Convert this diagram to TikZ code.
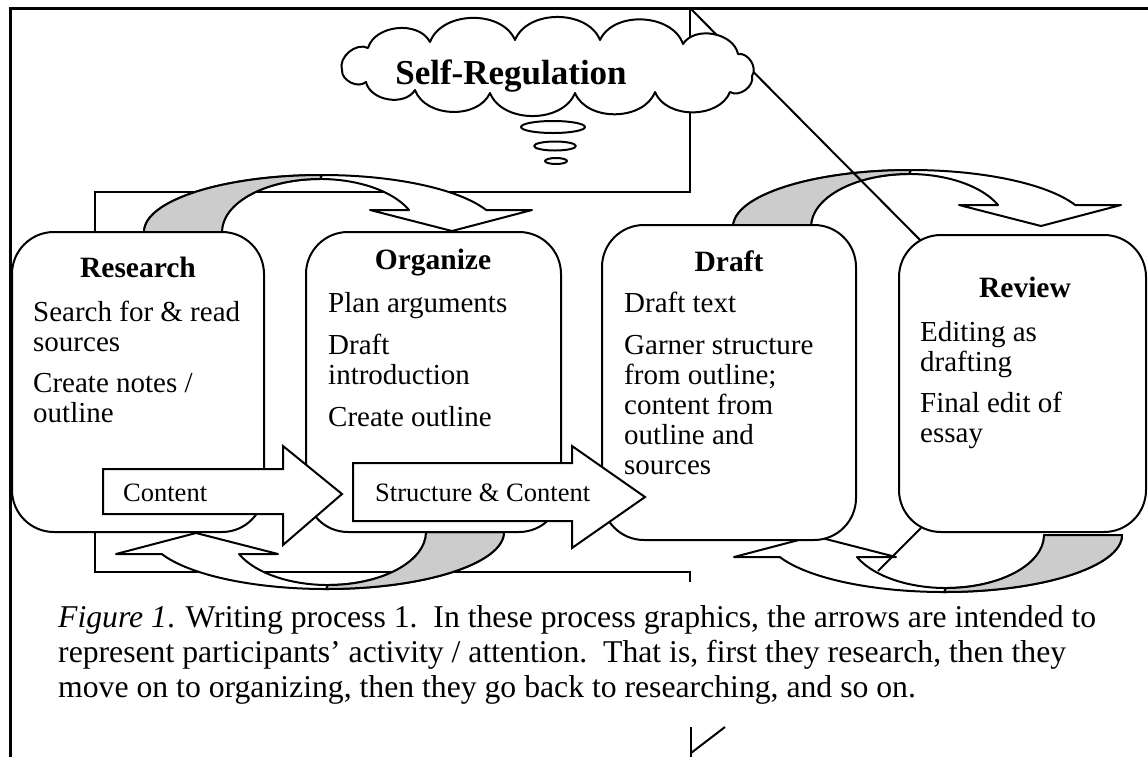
\documentclass[tikz,border=0pt]{standalone}
\usepackage{fontspec}
\setmainfont{Liberation Serif}
\tikzset{frameline/.style = {line width = 2}}
\tikzset{arrowline/.style = {line width = 2, line join = round}}
\tikzset{procbox/.style = {draw, fill = white, line width = 2, rounded corners = 42, inner sep = 0}}
\tikzset{blockarrow/.style = {draw, fill = white, line width = 2, line join = miter}}
\tikzset{puff/.style = {bend left = 68}}
\tikzset{headtext/.style = {anchor = base, inner sep = 0, font = \fontsize{29.5}{30}\selectfont\bfseries}}
\tikzset{itemtext/.style = {anchor = base west, inner sep = 0, font = \fontsize{29}{30}\selectfont}}
\tikzset{labeltext/.style = {anchor = base west, inner sep = 0, font = \fontsize{26.5}{28}\selectfont}}
\tikzset{captext/.style = {anchor = base west, inner sep = 0, font = \fontsize{31.7}{35}\selectfont}}
\definecolor{backgray}{RGB}{204, 204, 204}
\tikzset{bendarrow/.pic = {
    \draw [arrowline, fill = white] (0, 0) arc [start angle = 180, end angle = 337.3, x radius = 178, y radius = 57]
      -- (388, -22) -- (308, -1) -- (226, -22) -- (265, -22)
      arc [start angle = 335.5, end angle = 180, x radius = 98, y radius = 53] -- cycle;
    \draw [arrowline, fill = backgray] (0, 0) arc [start angle = 180, end angle = 270, x radius = 178, y radius = 57]
      -- (176, -53) arc [start angle = 270, end angle = 180, x radius = 98, y radius = 53] -- cycle;
  }}

\begin{document}
\begin{tikzpicture}[x = 1pt, y = -1pt]
      \useasboundingbox (0, 0) rectangle (1148, 756);
      \fill [white] (0, 0) rectangle (1148, 756);

      \draw [line width = 3] (10, 760) -- (10, 8) -- (1150, 8);
      \draw [frameline] (690, 8) -- (690, 192) -- (95, 192) -- (95, 240);
      \draw [frameline] (95, 525) -- (95, 572) -- (690, 572) -- (690, 582);
      \draw [frameline] (691, 727) -- (691, 760);
      \draw [frameline] (691, 753) -- (725, 727);

      \pic (upA) at (144, 232) {bendarrow};
      \pic (upB) at (733, 227) {bendarrow};
      \pic [rotate = 180] (downA) at (504, 532) {bendarrow};
      \pic [rotate = 180] (downB) at (1122, 535) {bendarrow};

      \draw [frameline] (690, 8) -- (930, 250);

      \node [procbox, minimum width = 252, minimum height = 300] (research) at (138, 382) {};
      \node [procbox, minimum width = 255, minimum height = 300] (organize) at (433.5, 382) {};
      \node [procbox, minimum width = 254, minimum height = 315] (draft) at (729, 382.5) {};
      \node [procbox, minimum width = 247, minimum height = 297] (review) at (1022.5, 383.5) {};
      \draw [frameline] (921, 528) -- (878, 571);

      \draw [blockarrow] (103, 469) -- (283, 469) -- (283, 446) -- (342, 494)
        -- (283, 545) -- (283, 514) -- (103, 514) -- cycle;
      \draw [blockarrow] (353, 463) -- (572, 463) -- (572, 446) -- (645, 497)
        -- (572, 548) -- (572, 521) -- (353, 521) -- cycle;
      \node [labeltext] (content) at (123, 501) {Content};
      \node [labeltext] (structure) at (375, 501) {Structure \& Content};

      % cloud
      \draw [arrowline, fill = white] (342, 70) to [puff] (368, 48) to [puff] (430, 42)
        to [puff] (515, 40) to [puff] (600, 40) to [puff] (683, 44) to [puff] (738, 54)
        to [puff] (752, 76) to [puff] (730, 92) to [puff] (655, 92) to [puff] (575, 93)
        to [puff] (490, 93) to [puff] (415, 90) to [puff] (366, 82) to [puff] (342, 70) -- cycle;
      \node [anchor = base, inner sep = 0, font = \fontsize{35}{36}\selectfont\bfseries] (selfreg) at (511, 84) {Self-Regulation};
      \draw [arrowline, fill = white] (553, 127) ellipse [x radius = 32, y radius = 6];
      \draw [arrowline, fill = white] (555, 146) ellipse [x radius = 21, y radius = 4.5];
      \draw [arrowline, fill = white] (556, 161) ellipse [x radius = 11, y radius = 3];

      \node [headtext] (researchhead) at (138, 277) {Research};
      \node [itemtext] (research1) at (33, 321) {Search for \& read};
      \node [itemtext] (research2) at (33, 351) {sources};
      \node [itemtext] (research3) at (33, 392) {Create notes /};
      \node [itemtext] (research4) at (33, 422) {outline};

      \node [headtext] (organizehead) at (433, 269) {Organize};
      \node [itemtext] (organize1) at (328, 312) {Plan arguments};
      \node [itemtext] (organize2) at (328, 354) {Draft};
      \node [itemtext] (organize3) at (328, 384) {introduction};
      \node [itemtext] (organize4) at (328, 426) {Create outline};

      \node [headtext] (drafthead) at (729, 271) {Draft};
      \node [itemtext] (draft1) at (624, 312) {Draft text};
      \node [itemtext] (draft2) at (624, 354) {Garner structure};
      \node [itemtext] (draft3) at (624, 384) {from outline;};
      \node [itemtext] (draft4) at (624, 414) {content from};
      \node [itemtext] (draft5) at (624, 444) {outline and};
      \node [itemtext] (draft6) at (624, 474) {sources};

      \node [headtext] (reviewhead) at (1025, 297) {Review};
      \node [itemtext] (review1) at (920, 341) {Editing as};
      \node [itemtext] (review2) at (920, 371) {drafting};
      \node [itemtext] (review3) at (920, 412) {Final edit of};
      \node [itemtext] (review4) at (920, 442) {essay};

      \node [captext] (caption1) at (58, 627) {\textit{Figure 1}. Writing process 1.\ \ In these process graphics, the arrows are intended to};
      \node [captext] (caption2) at (58, 662) {represent participants’ activity / attention.\ \ That is, first they research, then they};
      \node [captext] (caption3) at (58, 697) {move on to organizing, then they go back to researching, and so on.};
\end{tikzpicture}
\end{document}
